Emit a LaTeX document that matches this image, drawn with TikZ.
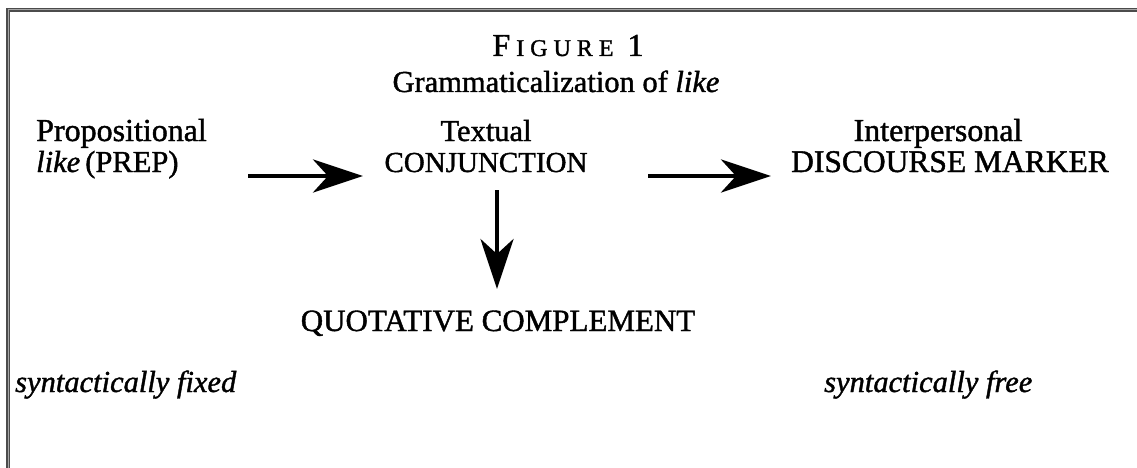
\documentclass[tikz,border=0pt]{standalone}
\usepackage{fontspec}
\setmainfont{Liberation Serif}[FakeBold=1.3]
\usetikzlibrary{arrows.meta}
\tikzset{
  lbl/.style={inner sep=0pt, anchor=base, font=\fontsize{30.5}{34}\selectfont},
  arr/.style={line width=4pt, -{Stealth[length=50pt, width=33pt, inset=15pt]}},
  framedark/.style={line width=4.5pt, draw=black!70},
  framelight/.style={line width=1pt, draw=black!35}
}
\newcommand{\sclet}[1]{{\fontsize{24}{24}\selectfont #1}}
\begin{document}
\begin{tikzpicture}[x=1pt,y=-1pt]
\useasboundingbox (0,0) rectangle (1137,468);
% frame (top and left only)
\draw[framedark] (8,10) -- (1137,10);
\draw[framedark] (8,8) -- (8,468);
\draw[framelight] (8,10) -- (1137,10);
\draw[framelight] (8,10) -- (8,468);
% title
\node[lbl, font=\fontsize{32}{34}\selectfont] (fig) at (568,56) {F\hspace{6pt}\sclet{I}\hspace{6pt}\sclet{G}\hspace{6pt}\sclet{U}\hspace{6pt}\sclet{R}\hspace{6pt}\sclet{E}\hspace{14pt}1};
\node[lbl] (title) at (556,92) {Grammaticalization of \textit{like}};
% left block
\node[lbl, anchor=base west, font=\fontsize{32}{34}\selectfont] (prop1) at (36,141) {Propositional};
\node[lbl, anchor=base west] (prop2) at (36,172) {\textit{like}\,(PREP)};
% middle block
\node[lbl] (text1) at (486,141) {Textual};
\node[lbl, font=\fontsize{29}{34}\selectfont] (conj) at (486,172) {CONJUNCTION};
% right block
\node[lbl, font=\fontsize{32}{34}\selectfont] (inter) at (938,141) {Interpersonal};
\node[lbl, font=\fontsize{31.5}{34}\selectfont] (disc) at (950,172) {DISCOURSE MARKER};
% bottom
\node[lbl, font=\fontsize{31}{34}\selectfont] (quot) at (498,331) {QUOTATIVE COMPLEMENT};
\node[lbl, anchor=base west] (fixed) at (15,392) {\textit{syntactically fixed}};
\node[lbl, anchor=base west] (free) at (824,392) {\textit{syntactically free}};
% arrows
\coordinate (a1s) at (248,176);
\coordinate (a1e) at (363,176);
\coordinate (a2s) at (648,176);
\coordinate (a2e) at (771,176);
\coordinate (a3s) at (497,190);
\coordinate (a3e) at (497,289);
\draw[arr] (a1s) -- (a1e);
\draw[arr] (a2s) -- (a2e);
\draw[arr] (a3s) -- (a3e);
\end{tikzpicture}
\end{document}
